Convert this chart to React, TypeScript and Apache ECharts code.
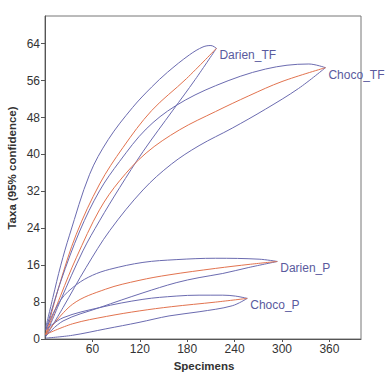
import React, { useEffect, useRef } from "react";
import * as echarts from "echarts";

const xTickValues = [60, 120, 180, 240, 300, 360];
const yTickValues = [0, 8, 16, 24, 32, 40, 48, 56, 64];

const groupNames = ["Darien_TF", "Choco_TF", "Darien_P", "Choco_P"];

// Darien_TF
const darienTFUpper = [[1, 2.5], [10, 9], [20, 16], [31, 22.5], [56.5, 35.7], [80, 43.2], [111, 50.2], [135, 54.6], [155, 57.8], [183, 61.6], [200, 63.3], [210, 63.6], [217, 63]];
const darienTFMean = [[1, 1], [18.6, 11.9], [39.6, 22.7], [69.2, 33.6], [98.7, 41.5], [135, 49.5], [178.9, 56.4], [217, 63]];
const darienTFLower = [[1, 0.7], [20, 8.5], [48, 19.1], [69, 25.6], [94.5, 32.8], [124, 40.6], [162, 49.6], [190, 56.2], [217, 63]];

// Choco_TF
const chocoTFUpper = [[1, 2], [20, 12.5], [44, 23.4], [69, 32.1], [94.5, 38.5], [128, 45.5], [165, 50.5], [216, 54.9], [279, 58.5], [334, 59.6], [355, 58.8]];
const chocoTFMean = [[1, 1], [20, 9.5], [39.6, 17.6], [69, 28], [94.5, 34.3], [128, 40.3], [170, 45.3], [216, 49.3], [258, 52.7], [300, 55.8], [355, 58.8]];
const chocoTFLower = [[1, 0.5], [22.8, 6.8], [52, 15.5], [82, 23.5], [124, 32.3], [160, 37.9], [195, 41.9], [237, 45.7], [279, 49.8], [321, 54.3], [355, 58.8]];

// Darien_P
const darienPUpper = [[1, 2], [20, 8.5], [40, 11.8], [60, 13.8], [82, 15.1], [124, 16.6], [166, 17.2], [216, 17.5], [271, 17.3], [294, 16.8]];
const darienPMean = [[1, 1], [34.6, 7.5], [76.8, 10.8], [119, 12.7], [157, 13.9], [216, 15.3], [260, 16.2], [294, 16.8]];
const darienPLower = [[1, 0.6], [22.8, 3.9], [69, 6.8], [124, 10], [166, 12.2], [195, 13.3], [225, 14.2], [258, 15.5], [294, 16.8]];

// Choco_P
const chocoPUpper = [[1, 2], [22.8, 4.6], [69, 6.8], [124, 8.6], [166, 9.3], [195, 9.5], [225, 9.5], [241, 9.3], [256, 8.8]];
const chocoPMean = [[1, 1], [35, 3.3], [78, 4.9], [120, 6.1], [160, 7.0], [216, 8.0], [256, 8.8]];
const chocoPLower = [[1, 0.2], [34.6, 0.8], [77, 2.2], [119, 3.6], [157, 5.0], [195, 5.9], [237, 7.2], [256, 8.8]];

const groups = [
  { name: groupNames[0], upper: darienTFUpper, mean: darienTFMean, lower: darienTFLower },
  { name: groupNames[1], upper: chocoTFUpper, mean: chocoTFMean, lower: chocoTFLower },
  { name: groupNames[2], upper: darienPUpper, mean: darienPMean, lower: darienPLower },
  { name: groupNames[3], upper: chocoPUpper, mean: chocoPMean, lower: chocoPLower },
];

const BLUE = "#6b6bb0";
const ORANGE = "#e2734f";
const LABEL = "#5a5a9e";
const FONT = "'Liberation Sans', Arial, sans-serif";

export default function App() {
  const ref = useRef<HTMLDivElement>(null);
  useEffect(() => {
    if (!ref.current) return;
    const chart = echarts.init(ref.current, null, { renderer: "svg" });
    const series: any[] = [];
    groups.forEach((g) => {
      const base = { type: "line", showSymbol: false, symbol: "none", smooth: 0.35, silent: true, clip: false };
      series.push({ ...base, name: g.name + " upper", data: g.upper, lineStyle: { color: BLUE, width: 1 } });
      series.push({ ...base, name: g.name + " lower", data: g.lower, lineStyle: { color: BLUE, width: 1 } });
      series.push({
        ...base,
        name: g.name,
        data: g.mean,
        lineStyle: { color: ORANGE, width: 1 },
        endLabel: {
          show: true,
          formatter: g.name,
          distance: 3,
          offset: [0, 7],
          color: LABEL,
          fontSize: 12,
          fontFamily: FONT,
        },
      });
    });
    chart.setOption({
      animation: false,
      backgroundColor: "#ffffff",
      grid: { left: 45, right: 30, top: 16, bottom: 49, show: true, borderColor: "#777777", borderWidth: 1 },
      xAxis: {
        type: "value",
        min: 0,
        max: 400,
        interval: 60,
        splitLine: { show: false },
        axisLine: { show: true, lineStyle: { color: "#555555", width: 1 } },
        axisTick: { show: true, length: 3, customValues: xTickValues, lineStyle: { color: "#555555" } },
        axisLabel: { customValues: xTickValues, color: "#333333", fontSize: 12, fontFamily: FONT, margin: 4 },
      },
      yAxis: {
        type: "value",
        min: 0,
        max: 70,
        interval: 8,
        splitLine: { show: false },
        axisLine: { show: true, lineStyle: { color: "#555555", width: 1 } },
        axisTick: { show: true, length: 4, customValues: yTickValues, lineStyle: { color: "#555555" } },
        axisLabel: { customValues: yTickValues, color: "#333333", fontSize: 12, fontFamily: FONT, margin: 5 },
      },
      graphic: [
        {
          type: "text",
          x: 12,
          y: 168,
          rotation: Math.PI / 2,
          style: { text: "Taxa (95% confidence)", fill: "#333333", font: "bold 11.5px 'Liberation Sans', Arial, sans-serif", align: "center", verticalAlign: "middle" },
        },
        {
          type: "text",
          x: 204,
          y: 366,
          style: { text: "Specimens", fill: "#333333", font: "bold 11.5px 'Liberation Sans', Arial, sans-serif", align: "center", verticalAlign: "middle" },
        },
      ],
      series,
    });
    return () => chart.dispose();
  }, []);
  return <div ref={ref} style={{ position: "fixed", left: 0, top: 0, width: 391, height: 388 }} />;
}
